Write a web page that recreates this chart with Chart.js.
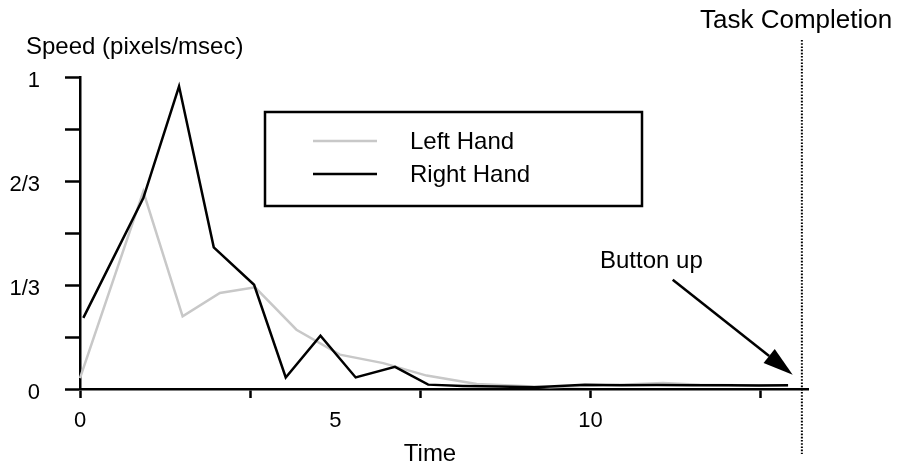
<!DOCTYPE html>
<html>
<head>
<meta charset="utf-8">
<script src="https://cdn.jsdelivr.net/npm/chart.js@4/dist/chart.umd.min.js"></script>
<style>
  html, body { margin: 0; padding: 0; background: #fff; }
  canvas { display: block; }
</style>
</head>
<body>
<canvas id="speed" width="900" height="462"></canvas>
<script>
// Hand speed over time, sampled per hand
const leftTimes  = [0, 1.24, 2.01, 2.74, 3.43, 4.24, 5.09, 5.94, 6.79, 7.77, 9.20, 10.57, 11.42, 12.14, 12.92, 13.86];
const leftSpeed  = [0.035, 0.633, 0.233, 0.308, 0.326, 0.190, 0.110, 0.083, 0.043, 0.016, 0.006, 0.014, 0.019, 0.014, 0.012, 0.012];

const rightTimes = [0.065, 1.24, 1.94, 2.62, 3.41, 4.03, 4.71, 5.40, 6.17, 6.82, 7.50, 8.20, 8.90, 9.89, 10.60, 11.30, 12.00, 12.70, 13.30, 13.87];
const rightSpeed = [0.228, 0.612, 0.970, 0.454, 0.334, 0.037, 0.171, 0.037, 0.071, 0.014, 0.010, 0.008, 0.006, 0.014, 0.012, 0.013, 0.012, 0.012, 0.011, 0.012];

// Axis ticks
const xTickValues = [0, 10 / 3, 5, 20 / 3, 10, 40 / 3];
const xLabelValues = [0, 5, 10];
const yTickValues = [0, 1 / 6, 1 / 3, 1 / 2, 2 / 3, 5 / 6, 1];
const yTickLabels = ['0', '', '1/3', '', '2/3', '', '1'];

// Annotations
const completionTime = 14.14;
const buttonUpArrow = { fromT: 11.61, fromY: 0.350, toT: 13.96, toY: 0.046 };

const FONT = '"Liberation Sans", Arial, Helvetica, sans-serif';

const toPoints = (ts, vs) => ts.map((t, i) => ({ x: t, y: vs[i] }));

const decorations = {
  id: 'decorations',
  afterDraw(chart) {
    const ctx = chart.ctx;
    const xs = chart.scales.x, ys = chart.scales.y;
    ctx.save();
    ctx.fillStyle = '#000';
    ctx.strokeStyle = '#000';
    ctx.textBaseline = 'alphabetic';

    // Titles
    ctx.font = '24px ' + FONT;
    ctx.textAlign = 'left';
    ctx.fillText('Speed (pixels/msec)', 26, 54);
    ctx.fillText('Button up', 600, 268);
    ctx.textAlign = 'center';
    ctx.fillText('Time', 430, 461);
    ctx.font = '26px ' + FONT;
    ctx.textAlign = 'left';
    ctx.fillText('Task Completion', 700, 28);

    // Task completion marker
    const cx = xs.getPixelForValue(completionTime);
    ctx.lineWidth = 2;
    ctx.setLineDash([1.6, 1.6]);
    ctx.beginPath();
    ctx.moveTo(cx, 40);
    ctx.lineTo(cx, 454);
    ctx.stroke();
    ctx.setLineDash([]);

    // "Button up" arrow
    const x0 = xs.getPixelForValue(buttonUpArrow.fromT), y0 = ys.getPixelForValue(buttonUpArrow.fromY);
    const x1 = xs.getPixelForValue(buttonUpArrow.toT), y1 = ys.getPixelForValue(buttonUpArrow.toY);
    const ang = Math.atan2(y1 - y0, x1 - x0);
    const headLen = 30, headHalf = 9;
    const bx = x1 - headLen * Math.cos(ang), by = y1 - headLen * Math.sin(ang);
    ctx.lineWidth = 2.5;
    ctx.beginPath();
    ctx.moveTo(x0, y0);
    ctx.lineTo(bx, by);
    ctx.stroke();
    ctx.beginPath();
    ctx.moveTo(x1, y1);
    ctx.lineTo(bx + headHalf * Math.sin(ang), by - headHalf * Math.cos(ang));
    ctx.lineTo(bx - headHalf * Math.sin(ang), by + headHalf * Math.cos(ang));
    ctx.closePath();
    ctx.fill();

    // Legend box
    ctx.lineWidth = 2.5;
    ctx.strokeRect(265, 112, 377, 94);
    ctx.font = '24px ' + FONT;
    ctx.textAlign = 'left';
    ctx.textBaseline = 'middle';
    const rows = [141, 174];
    chart.data.datasets.forEach((ds, i) => {
      const y = rows[i];
      ctx.strokeStyle = ds.borderColor;
      ctx.lineWidth = ds.borderWidth;
      ctx.beginPath();
      ctx.moveTo(313, y);
      ctx.lineTo(377, y);
      ctx.stroke();
      ctx.fillStyle = '#000';
      ctx.fillText(ds.label, 410, y + 1);
    });
    ctx.restore();
  }
};

new Chart(document.getElementById('speed'), {
  type: 'line',
  data: {
    datasets: [
      {
        label: 'Left Hand',
        data: toPoints(leftTimes, leftSpeed),
        borderColor: '#c8c8c8',
        borderWidth: 2.5,
        pointRadius: 0,
        tension: 0,
        order: 1
      },
      {
        label: 'Right Hand',
        data: toPoints(rightTimes, rightSpeed),
        borderColor: '#000000',
        borderWidth: 2.5,
        pointRadius: 0,
        tension: 0,
        order: 0
      }
    ]
  },
  options: {
    responsive: false,
    animation: false,
    clip: false,
    layout: { padding: { top: 77, right: 92, left: 0, bottom: 0 } },
    plugins: {
      legend: { display: false },
      tooltip: { enabled: false }
    },
    scales: {
      x: {
        type: 'linear',
        min: 0,
        max: 14.26,
        afterFit(scale) { scale.height = 73; },
        afterBuildTicks(scale) { scale.ticks = xTickValues.map(v => ({ value: v })); },
        border: { display: true, color: '#000', width: 2.5 },
        grid: {
          drawOnChartArea: false,
          drawTicks: true,
          tickLength: 9,
          tickWidth: 2.5,
          tickColor: (c) => (c.tick && c.tick.value === 5) ? 'rgba(0,0,0,0)' : '#000'
        },
        ticks: {
          autoSkip: false,
          maxRotation: 0,
          padding: 10,
          color: '#000',
          font: { family: FONT, size: 22 },
          callback: (v) => xLabelValues.some(l => Math.abs(l - v) < 1e-6) ? String(v) : ''
        }
      },
      y: {
        type: 'linear',
        min: 0,
        max: 1,
        afterFit(scale) { scale.width = 80; },
        afterBuildTicks(scale) { scale.ticks = yTickValues.map(v => ({ value: v })); },
        border: { display: true, color: '#000', width: 2.5 },
        grid: {
          drawOnChartArea: false,
          drawTicks: true,
          tickLength: 15,
          tickWidth: 2.5,
          tickColor: '#000'
        },
        ticks: {
          autoSkip: false,
          padding: 25,
          color: '#000',
          labelOffset: 4,
          font: { family: FONT, size: 22 },
          callback: (v, i) => yTickLabels[i]
        }
      }
    }
  },
  plugins: [decorations]
});
</script>
</body>
</html>
